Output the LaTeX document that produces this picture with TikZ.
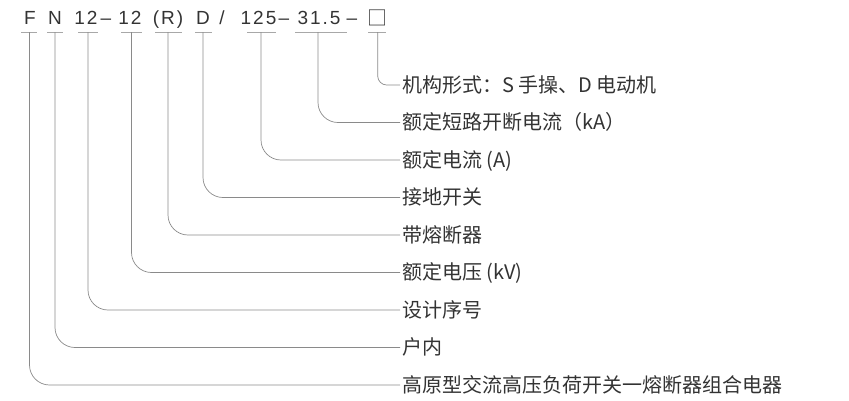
\documentclass[tikz,border=0pt]{standalone}
\usepackage{fontspec}
\setmainfont{Noto Sans CJK SC}
\newfontfamily\codefont{Liberation Sans}
\definecolor{txt}{HTML}{333333}
\definecolor{ln}{HTML}{8A8A8A}
\definecolor{ul}{HTML}{A8A8A8}
\newcommand\kk{\kern2pt}
\begin{document}
\begin{tikzpicture}[x=1pt,y=-1pt,
  tok/.style={anchor=base, inner sep=0pt, text=txt, font=\codefont\fontsize{19}{19}\selectfont},
  lab/.style={anchor=base west, inner sep=0pt, text=txt, font=\fontsize{20}{20}\selectfont},
  conn/.style={draw=ln, line width=0.7pt},
  uline/.style={draw=ul, line width=0.9pt}]
\useasboundingbox (0,0) rectangle (849,400);
% code tokens
\node[tok] (tF) at (30,24) {F};
\node[tok] (tN) at (55,24) {N};
\node[tok] (t12a) at (86,24) {1\kk2};
\node[tok] (d1) at (106,24) {–};
\node[tok] (t12b) at (130,24) {1\kk2};
\node[tok] (tR) at (168,24) {(\kk R\kk)};
\node[tok] (tD) at (203,24) {D};
\node[tok] (tsl) at (222,24) {/};
\node[tok] (t125) at (258.5,24) {1\kk2\kk5};
\node[tok] (d2) at (284,24) {–};
\node[tok] (t315) at (319,24) {3\kk1\kk.\kk5};
\node[tok] (d3) at (352,24) {–};
\node[tok] (tbox) at (377,25) {\rmfamily\fontsize{20}{20}\selectfont □};
% underlines
\draw[uline] (21,32) -- (37,32);
\draw[uline] (47,32) -- (63,32);
\draw[uline] (78,32) -- (98,32);
\draw[uline] (121,32) -- (142,32);
\draw[uline] (155,32) -- (182,32);
\draw[uline] (195,32) -- (212,32);
\draw[uline] (247,32) -- (276,32);
\draw[uline] (295,32) -- (347,32);
\draw[uline] (368,32) -- (386,32);
% connector start points
\coordinate (c0) at (377.7,32);
\coordinate (c1) at (318,32);
\coordinate (c2) at (261,32);
\coordinate (c3) at (203,32);
\coordinate (c4) at (168,32);
\coordinate (c5) at (131.5,32);
\coordinate (c6) at (88,32);
\coordinate (c7) at (55,32);
\coordinate (c8) at (29.5,32);
% labels
\node[lab] (l0) at (402,92) {机构形式：S 手操、D 电动机};
\node[lab] (l1) at (402,129.5) {额定短路开断电流（kA）};
\node[lab] (l2) at (402,167) {额定电流 (A)};
\node[lab] (l3) at (402,204.5) {接地开关};
\node[lab] (l4) at (402,242) {带熔断器};
\node[lab] (l5) at (402,279.5) {额定电压 (kV)};
\node[lab] (l6) at (402,317) {设计序号};
\node[lab] (l7) at (402,354.5) {户内};
\node[lab] (l8) at (402,392) {高原型交流高压负荷开关一熔断器组合电器};
% connector end points
\foreach \i/\y in {0/85,1/122.5,2/160,3/197.5,4/235,5/272.5,6/310,7/347.5,8/385}
  \coordinate (e\i) at (400,\y);
\draw[conn, rounded corners=9pt] (c0) |- (e0);
\foreach \i in {1,...,8}
  \draw[conn, rounded corners=20pt] (c\i) |- (e\i);
\end{tikzpicture}
\end{document}
